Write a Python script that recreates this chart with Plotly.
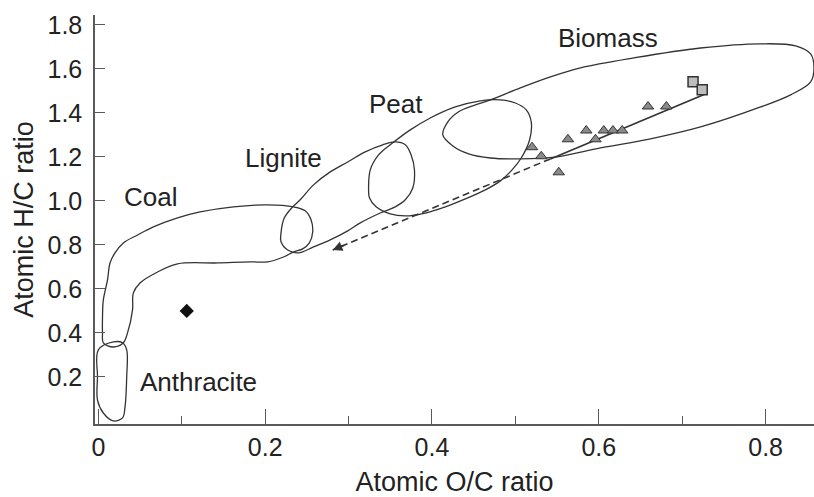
import plotly.graph_objects as go

# ---- sample points ----
tri_x = [0.520, 0.531, 0.552, 0.563, 0.585, 0.596, 0.606, 0.617, 0.628, 0.659, 0.681]
tri_y = [1.244, 1.203, 1.130, 1.280, 1.320, 1.280, 1.320, 1.320, 1.320, 1.429, 1.429]
sq_x = [0.713, 0.724]
sq_y = [1.542, 1.505]
dia_x = [0.106]
dia_y = [0.50]

# trend line: start (solid) -> change to dashed -> arrow tip
trend_x = [0.727, 0.542, 0.281]
trend_y = [1.485, 1.191, 0.777]

# ---- region outlines ----
anth_x = [0.018, 0.000, -0.001, -0.001, 0.006, 0.018, 0.029, 0.032, 0.034, 0.034, 0.029, 0.018]
anth_y = [0.359, 0.323, 0.200, 0.095, 0.036, 0.000, 0.014, 0.064, 0.200, 0.323, 0.355, 0.359]

coal_x = [0.006, 0.005, 0.005, 0.006, 0.011, 0.014, 0.020, 0.030, 0.047, 0.066, 0.095, 0.122, 0.162,
          0.203, 0.234, 0.248, 0.255, 0.257, 0.253, 0.245, 0.234, 0.222, 0.203, 0.182, 0.143, 0.095,
          0.071, 0.050, 0.042, 0.041, 0.035, 0.030, 0.018, 0.006]
coal_y = [0.355, 0.400, 0.473, 0.550, 0.641, 0.718, 0.764, 0.809, 0.845, 0.882, 0.923, 0.950, 0.973,
          0.982, 0.973, 0.955, 0.914, 0.859, 0.809, 0.782, 0.768, 0.745, 0.723, 0.723, 0.718, 0.714,
          0.677, 0.627, 0.582, 0.505, 0.400, 0.355, 0.336, 0.355]

lig_x = [0.219, 0.223, 0.233, 0.242, 0.258, 0.278, 0.299, 0.320, 0.341, 0.356, 0.368, 0.375, 0.379,
         0.377, 0.368, 0.356, 0.338, 0.314, 0.299, 0.278, 0.258, 0.240, 0.227, 0.219, 0.219]
lig_y = [0.855, 0.923, 0.973, 1.005, 1.073, 1.132, 1.177, 1.223, 1.255, 1.268, 1.255, 1.209, 1.141,
         1.059, 1.005, 0.973, 0.945, 0.900, 0.864, 0.823, 0.791, 0.764, 0.777, 0.814, 0.855]

peat_x = [0.324, 0.326, 0.336, 0.353, 0.374, 0.398, 0.428, 0.458, 0.482, 0.500, 0.513, 0.519, 0.517,
          0.507, 0.496, 0.482, 0.464, 0.440, 0.416, 0.392, 0.368, 0.350, 0.333, 0.325, 0.324]
peat_y = [1.050, 1.141, 1.209, 1.264, 1.323, 1.377, 1.427, 1.455, 1.459, 1.445, 1.414, 1.359, 1.277,
          1.195, 1.141, 1.091, 1.050, 1.009, 0.973, 0.945, 0.932, 0.941, 0.973, 1.014, 1.050]

bio_x = [0.413, 0.419, 0.432, 0.452, 0.470, 0.506, 0.542, 0.578, 0.642, 0.722, 0.794, 0.836, 0.854,
         0.858, 0.854, 0.830, 0.794, 0.722, 0.662, 0.602, 0.550, 0.506, 0.470, 0.444, 0.425, 0.413]
bio_y = [1.300, 1.359, 1.405, 1.436, 1.459, 1.514, 1.564, 1.605, 1.650, 1.695, 1.714, 1.705, 1.668,
         1.605, 1.541, 1.482, 1.427, 1.336, 1.282, 1.241, 1.200, 1.191, 1.195, 1.214, 1.250, 1.300]

labels = ["Biomass", "Peat", "Lignite", "Coal", "Anthracite"]
label_x = [0.611, 0.357, 0.222, 0.063, 0.120]
label_y = [1.741, 1.441, 1.195, 1.018, 0.177]

x_ticks = [0, 0.2, 0.4, 0.6, 0.8]
x_ticktext = ["0", "0.2", "0.4", "0.6", "0.8"]
y_ticks = [0.2, 0.4, 0.6, 0.8, 1.0, 1.2, 1.4, 1.6, 1.8]
y_ticktext = ["0.2", "0.4", "0.6", "0.8", "1.0", "1.2", "1.4", "1.6", "1.8"]

INK = "#333333"
AXIS = "#5a5a5a"
TXT = "#222222"
FONT = "Liberation Sans, Arial, sans-serif"

fig = go.Figure()

for xs, ys in [(anth_x, anth_y), (coal_x, coal_y), (lig_x, lig_y), (peat_x, peat_y), (bio_x, bio_y)]:
    fig.add_trace(go.Scatter(x=xs, y=ys, mode="lines",
                             line=dict(color=INK, width=1.3, shape="spline", smoothing=1.0),
                             hoverinfo="skip", showlegend=False))

# trend: solid part
fig.add_trace(go.Scatter(x=trend_x[:2], y=trend_y[:2], mode="lines",
                         line=dict(color=INK, width=1.6), showlegend=False))
# trend: dashed part
fig.add_trace(go.Scatter(x=trend_x[1:], y=trend_y[1:], mode="lines",
                         line=dict(color=INK, width=1.6, dash="7px,4px"), showlegend=False))

fig.add_trace(go.Scatter(x=tri_x, y=tri_y, mode="markers",
                         marker=dict(symbol="triangle-up", size=10, color="#8a8a8a",
                                     line=dict(color=INK, width=1)), showlegend=False))
fig.add_trace(go.Scatter(x=sq_x, y=sq_y, mode="markers",
                         marker=dict(symbol="square", size=10, color="#bdbdbd",
                                     line=dict(color=INK, width=1.5)), showlegend=False))
fig.add_trace(go.Scatter(x=dia_x, y=dia_y, mode="markers",
                         marker=dict(symbol="diamond", size=11, color="#111111"), showlegend=False))

# arrow head at the tip of the dashed line
fig.add_annotation(x=trend_x[2], y=trend_y[2],
                   ax=trend_x[2] + (trend_x[1] - trend_x[2]) * 0.06,
                   ay=trend_y[2] + (trend_y[1] - trend_y[2]) * 0.06,
                   xref="x", yref="y", axref="x", ayref="y", showarrow=True,
                   arrowhead=2, arrowsize=1.2, arrowwidth=1.6, arrowcolor=INK, text="")

for t, lx, ly in zip(labels, label_x, label_y):
    fig.add_annotation(x=lx, y=ly, text=t, showarrow=False, xref="x", yref="y",
                       font=dict(family=FONT, size=26, color=TXT))

fig.update_layout(
    width=814, height=497,
    margin=dict(l=95, r=0, t=15, b=73),
    paper_bgcolor="white", plot_bgcolor="white",
    font=dict(family=FONT, size=25, color=TXT),
    showlegend=False,
)
fig.update_xaxes(range=[-0.004, 0.858], tickvals=x_ticks, ticktext=x_ticktext,
                 showline=True, linecolor=AXIS, linewidth=1.5, ticks="inside",
                 ticklen=15, tickwidth=1.3, tickcolor=AXIS,
                 minor=dict(tickvals=[0.1, 0.3, 0.5, 0.7], ticks="inside", ticklen=8,
                            tickwidth=1.3, tickcolor=AXIS, showgrid=False),
                 showgrid=False, zeroline=False,
                 tickfont=dict(size=25, color=TXT),
                 title=dict(text="Atomic O/C ratio", font=dict(size=27, color=TXT), standoff=12))
fig.update_yaxes(range=[-0.014, 1.845], tickvals=y_ticks, ticktext=y_ticktext,
                 showline=True, linecolor=AXIS, linewidth=1.5, ticks="inside",
                 ticklen=10, tickwidth=1.3, tickcolor=AXIS, showgrid=False, zeroline=False,
                 tickfont=dict(size=25, color=TXT), ticklabelstandoff=6,
                 title=dict(text="Atomic H/C ratio", font=dict(size=27, color=TXT), standoff=6))

fig.write_html("out.html")
